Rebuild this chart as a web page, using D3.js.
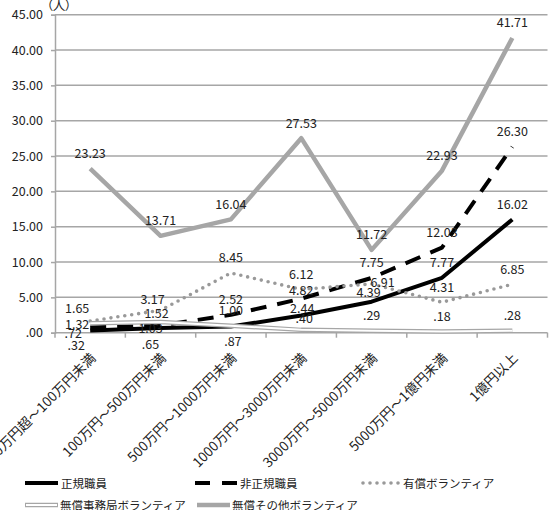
<!DOCTYPE html>
<html><head><meta charset="utf-8">
<script src="https://cdn.jsdelivr.net/npm/d3@7"></script>
<style>
html,body{margin:0;padding:0;background:#fff;}
svg{display:block;font-family:"Noto Sans CJK JP","Noto Sans",sans-serif;}
.palt{font-feature-settings:"palt";}
</style></head>
<body>
<svg id="chart" width="552" height="510"></svg>
<script>
// ---- data ----
const categories = ["0万円超～100万円未満","100万円～500万円未満","500万円～1000万円未満","1000万円～3000万円未満","3000万円～5000万円未満","5000万円～1億円未満","1億円以上"];
const seriesNames = ["正規職員","非正規職員","有償ボランティア","無償事務局ボランティア","無償その他ボランティア"];
const seikiShokuin   = [0.32, 0.65, 0.87, 2.44, 4.39, 7.77, 16.02];
const hiseikiShokuin = [0.72, 1.03, 2.52, 4.82, 7.75, 12.03, 26.30];
const yushoVol       = [1.65, 3.17, 8.45, 6.12, 6.91, 4.31, 6.85];
const mushoJimuVol   = [1.32, 1.52, 1.00, 0.40, 0.29, 0.18, 0.28];
const mushoSonotaVol = [23.23, 13.71, 16.04, 27.53, 11.72, 22.93, 41.71];
const yTicks = [0,5,10,15,20,25,30,35,40,45];
const unitLabel = "（人）";

// ---- layout / styles ----
const plot = {left:55, right:547.5, top:14.7, bottom:332.7};
const styles = [
  {stroke:"#000", width:4, dash:null, cap:"butt"},
  {stroke:"#000", width:4, dash:"16,11", cap:"butt"},
  {stroke:"#999", width:3.6, dash:"0,7", cap:"round"},
  {stroke:"#a6a6a6", width:4.5, dash:null, cap:"butt", inner:"#fff", innerWidth:2},
  {stroke:"#a6a6a6", width:4.5, dash:null, cap:"butt"}
];
// label offsets relative to point (default above)
const defaultLabelOffset = [0,-16];
const labelNudge = {
  "0:0":[-14,14],"0:1":[-10,15],"0:2":[2,13.5],"0:3":[1,-7.5],"0:4":[-3,-10],
  "1:0":[-17,5],"1:1":[-10,2],"1:3":[0,-9.5],
  "2:0":[-13,-14],"2:1":[-8,-12],"2:4":[11,-2],
  "3:0":[-13,0],"3:1":[-4,-9],"3:3":[3,-12]
};

const allValues = [seikiShokuin,hiseikiShokuin,yushoVol,mushoJimuVol,mushoSonotaVol];
const svg = d3.select("#chart");

const x = d3.scaleBand().domain(categories).range([plot.left, plot.right]).padding(0);
const y = d3.scaleLinear().domain([0,45]).range([plot.bottom, plot.top]);
const cx = c => x(c) + x.bandwidth()/2;

const fmt = v => { const s = d3.format(".2f")(v); return s.startsWith("0.") ? s.slice(1) : s; };

// gridlines
svg.append("g").selectAll("line").data(yTicks.filter(t=>t>0)).join("line")
  .attr("x1", plot.left).attr("x2", plot.right)
  .attr("y1", d=>y(d)).attr("y2", d=>y(d))
  .attr("stroke","#a6a6a6").attr("stroke-width",1.5);

// y axis
const yAxis = svg.append("g").attr("transform",`translate(${plot.left},0)`)
  .call(d3.axisLeft(y).tickValues(yTicks).tickFormat(fmt).tickSize(4).tickPadding(8));
yAxis.select(".domain").attr("stroke","#a6a6a6").attr("stroke-width",1.5);
yAxis.selectAll(".tick line").attr("stroke","#a6a6a6").attr("stroke-width",1.5);
yAxis.selectAll(".tick text").attr("font-size",12.5).attr("fill","#222")
  .attr("font-family","\"Noto Sans CJK JP\",sans-serif");

// x axis
const xAxisG = svg.append("g").attr("transform",`translate(0,${plot.bottom})`);
xAxisG.append("line").attr("x1",plot.left).attr("x2",plot.right).attr("y1",0).attr("y2",0)
  .attr("stroke","#a6a6a6").attr("stroke-width",1.5);
const boundaries = categories.map(c=>x(c)).concat([plot.right]);
xAxisG.selectAll("line.tk").data(boundaries).join("line").attr("class","tk")
  .attr("x1",d=>d).attr("x2",d=>d).attr("y1",0).attr("y2",5)
  .attr("stroke","#a6a6a6").attr("stroke-width",1.5);
xAxisG.selectAll("text").data(categories).join("text")
  .attr("transform", d=>`translate(${cx(d)+3},${23}) rotate(-45)`)
  .attr("text-anchor","end").attr("dy","0.35em")
  .attr("font-size",13.5).attr("fill","#222").text(d=>d);

// unit label
svg.append("text").attr("class","palt").attr("x",59).attr("y",4).attr("text-anchor","middle")
  .attr("dominant-baseline","central").attr("font-size",12.5).attr("fill","#222").text(unitLabel);

// lines
const line = d3.line().x((d,i)=>cx(categories[i])).y(d=>y(d));
const linesG = svg.append("g");
allValues.forEach((vals,si)=>{
  const st = styles[si];
  const p = linesG.append("path").attr("d",line(vals)).attr("fill","none")
    .attr("stroke",st.stroke).attr("stroke-width",st.width)
    .attr("stroke-linecap",st.cap).attr("stroke-linejoin","round");
  if (st.dash) p.attr("stroke-dasharray",st.dash);
  if (st.inner) linesG.append("path").attr("d",line(vals)).attr("fill","none")
    .attr("stroke",st.inner).attr("stroke-width",st.innerWidth).attr("stroke-linejoin","round");
});

// data labels
const labG = svg.append("g");
allValues.forEach((vals,si)=>{
  vals.forEach((v,i)=>{
    const off = labelNudge[si+":"+i] || defaultLabelOffset;
    labG.append("text").attr("x", cx(categories[i]) + off[0]).attr("y", y(v) + off[1])
      .attr("text-anchor","middle").attr("dominant-baseline","central")
      .attr("font-size",12.5).attr("fill","#222").text(fmt(v));
  });
});

// legend
const legendItems = [
  {si:0, x1:25, x2:58, tx:61, ty:483},
  {si:1, x1:195, x2:237, tx:240, ty:483},
  {si:2, x1:363, x2:400, tx:403, ty:483},
  {si:3, x1:25, x2:58, tx:60, ty:505},
  {si:4, x1:197, x2:230, tx:232, ty:505}
];
const legG = svg.append("g");
legendItems.forEach(it=>{
  const st = styles[it.si];
  const l = legG.append("line").attr("x1",it.x1).attr("x2",it.x2).attr("y1",it.ty).attr("y2",it.ty)
    .attr("stroke",st.stroke).attr("stroke-width",st.width).attr("stroke-linecap",st.cap);
  if (st.dash) l.attr("stroke-dasharray", it.si===1 ? "15,12" : st.dash);
  if (st.inner) legG.append("line").attr("x1",it.x1+1).attr("x2",it.x2-1).attr("y1",it.ty).attr("y2",it.ty)
    .attr("stroke",st.inner).attr("stroke-width",st.innerWidth);
  legG.append("text").attr("x",it.tx).attr("y",it.ty).attr("dominant-baseline","central")
    .attr("font-size",11.5).attr("fill","#222").text(seriesNames[it.si]);
});
</script>
</body></html>
